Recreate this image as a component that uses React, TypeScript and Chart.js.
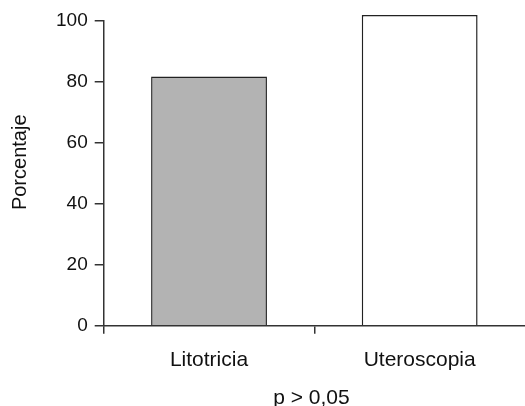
import React, { useEffect, useRef } from "react";
import { Chart, registerables } from "chart.js";

Chart.register(...registerables);

const categories = ["Litotricia", "Uteroscopia"];
const values = [81.8, 102];
const barColors = ["#b3b3b3", "#ffffff"];
const yTicks = [0, 20, 40, 60, 80, 100];
const yTitle = "    Porcentaje";
const xTitle = "p > 0,05 ";

export default function App() {
  const ref = useRef<HTMLCanvasElement>(null);
  useEffect(() => {
    document.body.style.margin = "0";
    const ctx = ref.current!;
    const family = "'Liberation Sans', Arial, sans-serif";
    const chart = new Chart(ctx, {
      type: "bar",
      data: {
        labels: categories,
        datasets: [
          {
            data: values,
            backgroundColor: barColors,
            borderColor: "#222",
            borderWidth: 1.5,
            barPercentage: 0.55,
            categoryPercentage: 1,
            clip: false as any,
          },
        ],
      },
      options: {
        responsive: false,
        animation: false,
        devicePixelRatio: 1,
        layout: { padding: { top: 21, right: 0, bottom: -3, left: 8 } },
        plugins: { legend: { display: false }, tooltip: { enabled: false } },
        scales: {
          x: {
            offset: true,
            grid: {
              offset: true,
              drawOnChartArea: false,
              drawTicks: true,
              tickLength: 8,
              lineWidth: 1.5,
              color: (c: any) => (c.tick ? "#333" : "rgba(0,0,0,0)"),
            },
            border: { color: "#333", width: 1.5 },
            ticks: { color: "#111", font: { family, size: 21 }, padding: 14 },
            title: {
              display: true,
              text: xTitle,
              color: "#111",
              font: { family, size: 21, lineHeight: 1 },
              padding: { top: 1, bottom: 0 },
            },
          },
          y: {
            min: 0,
            max: 100,
            afterBuildTicks: (s: any) => {
              s.ticks = yTicks.map((v) => ({ value: v }));
            },
            grid: { drawOnChartArea: false, drawTicks: true, tickLength: 9, lineWidth: 1.5, color: "#333" },
            border: { color: "#333", width: 1.5 },
            ticks: { color: "#111", font: { family, size: 19 }, padding: 7 },
            title: {
              display: true,
              text: yTitle,
              color: "#111",
              font: { family, size: 20 },
              padding: { top: 0, bottom: 17 },
            },
          },
        },
      },
    });
    return () => chart.destroy();
  }, []);
  return (
    <div style={{ position: "relative", width: 525, height: 406 }}>
      <canvas ref={ref} width={525} height={406} style={{ display: "block" }} />
    </div>
  );
}
